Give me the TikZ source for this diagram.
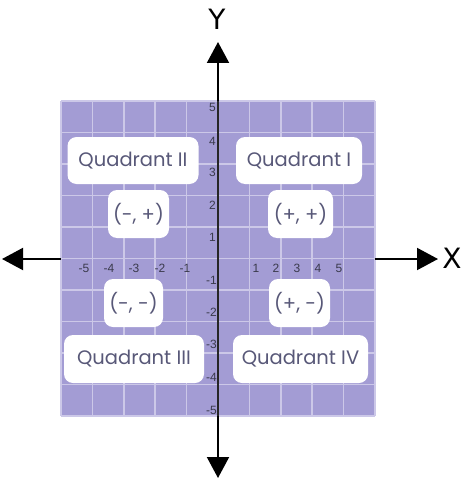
\documentclass[tikz,border=0pt]{standalone}
\usepackage{fontspec}
\setmainfont{Poppins}
\newfontfamily\tickfont{Liberation Sans}
\newfontfamily\axfont{DejaVu Sans}
\usetikzlibrary{arrows.meta}
\definecolor{gridbg}{HTML}{A39CD4}
\definecolor{gridln}{HTML}{CCC8E8}
\definecolor{qtext}{HTML}{585878}
\definecolor{ticktxt}{HTML}{3A3A4C}
\tikzset{
  qbox/.style={fill=white, rounded corners=9pt, inner sep=0pt, text=qtext, font=\fontsize{19.5}{20}\selectfont},
  tick/.style={text=ticktxt, font=\tickfont\fontsize{12}{12}\selectfont, inner sep=0pt},
  axisline/.style={line width=2pt, black, -{Triangle[length=21pt,width=22pt]}},
  axlabel/.style={font=\axfont\fontsize{28}{28}\selectfont, inner sep=0pt}
}
\begin{document}
\begin{tikzpicture}[x=1pt,y=-1pt]
\useasboundingbox (0,0) rectangle (472,487);
% grid background
\fill[gridbg] (61,101) rectangle (375,416);
\foreach \i in {0,...,10}{
  \draw[gridln, line width=1.5pt] ({61+31.4*\i},101) -- ({61+31.4*\i},416);
  \draw[gridln, line width=1.5pt] (61,{101+31.5*\i}) -- (375,{101+31.5*\i});
}
% axes
\coordinate (gt) at (218,101);
\coordinate (gb) at (218,416);
\coordinate (ytop) at (218,42);
\coordinate (ybot) at (218,478);
\coordinate (xleft) at (2,259);
\coordinate (xright) at (438,259);
\coordinate (gl) at (61,259);
\coordinate (gr) at (375,259);
\draw[line width=1.2pt, black!85] (gt) -- (gb);
\draw[axisline] (gt) -- (ytop);
\draw[axisline] (gb) -- (ybot);
\draw[axisline] (gl) -- (xleft);
\draw[axisline] (gr) -- (xright);
\node[axlabel] (ylab) at (217,19) {Y};
\node[axlabel] (xlab) at (452,258) {X};
% tick labels
\foreach \v/\x in {-5/84,-4/109,-3/134,-2/160,-1/185,1/256,2/276,3/297,4/318,5/339}
  \node[tick] (tx\v) at (\x,268) {\v};
\foreach \v/\y in {5/107,4/141,3/172,2/205,1/237}
  \node[tick, anchor=east] (ty\v) at (216,\y) {\v};
\foreach \v/\y in {-1/280,-2/312,-3/344,-4/377,-5/410}
  \node[tick, anchor=east] (ty\v) at (217,\y) {\v};
% boxes
\node[qbox, minimum width=131pt, minimum height=47pt] (q2) at (133,160.5) {Quadrant II};
\node[qbox, minimum width=126pt, minimum height=47pt] (q1) at (299,160.5) {Quadrant I};
\node[qbox, minimum width=140pt, minimum height=48pt] (q3) at (134,359) {Quadrant III};
\node[qbox, minimum width=135pt, minimum height=48pt] (q4) at (300.5,359) {Quadrant IV};
\node[qbox, minimum width=61pt, minimum height=48pt] (s2) at (138.5,214) {(-, +)};
\node[qbox, minimum width=65pt, minimum height=48pt] (s1) at (300.5,214) {(+, +)};
\node[qbox, minimum width=59pt, minimum height=48pt] (s3) at (133.5,303) {(-, -)};
\node[qbox, minimum width=61pt, minimum height=48pt] (s4) at (299.5,303) {(+, -)};
\end{tikzpicture}
\end{document}
